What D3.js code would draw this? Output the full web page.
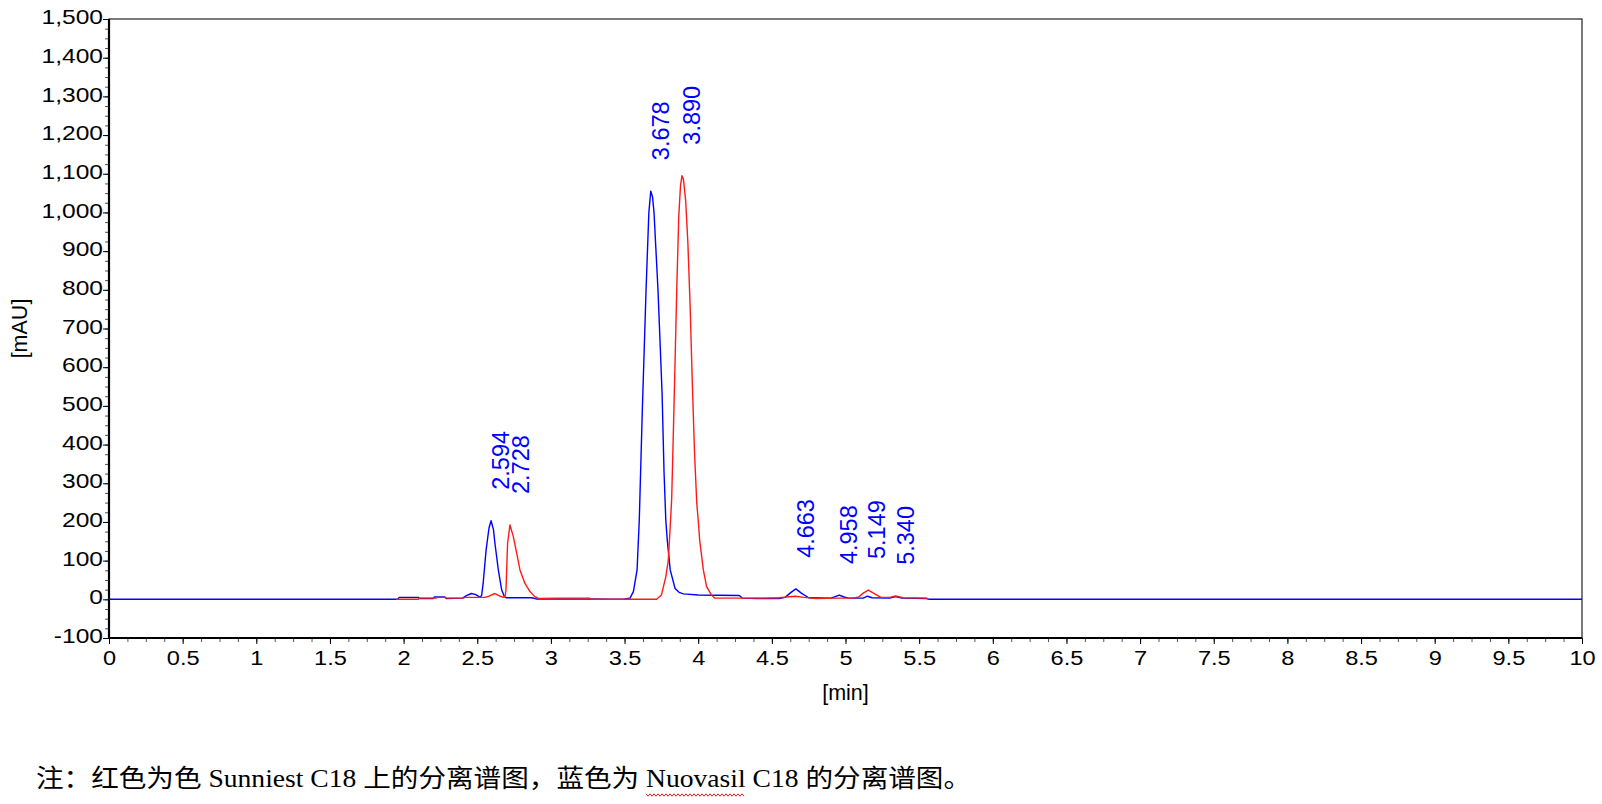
<!DOCTYPE html>
<html>
<head>
<meta charset="utf-8">
<script src="https://cdn.jsdelivr.net/npm/d3@7"></script>
<style>
  body { margin: 0; background: #fff; }
  svg { display: block; }
</style>
</head>
<body>
<svg id="chart" width="1602" height="804"></svg>
<script>
// Nuovasil C18 (blue) trace: [min, mAU]
const nuovasil = [
  [0, 0], [1.96, 0], [1.97, 5], [2.10, 5], [2.11, 2], [2.20, 2], [2.21, 6], [2.28, 6],
  [2.29, 2], [2.40, 3], [2.43, 10], [2.46, 15], [2.49, 12], [2.52, 5], [2.53, 11],
  [2.54, 41], [2.56, 127], [2.58, 185], [2.594, 203], [2.61, 180], [2.62, 145],
  [2.643, 76], [2.666, 24], [2.684, 7], [2.70, 4], [2.87, 4], [2.90, 1], [3.25, 1],
  [3.40, 0], [3.50, 1], [3.537, 3], [3.56, 20], [3.585, 76], [3.60, 205], [3.62, 480],
  [3.646, 800], [3.665, 1000], [3.678, 1055], [3.69, 1040], [3.70, 1000], [3.727, 800],
  [3.755, 530], [3.768, 330], [3.78, 205], [3.79, 153], [3.81, 76], [3.843, 28],
  [3.87, 18], [3.90, 14], [4.0, 11], [4.28, 10], [4.30, 3], [4.40, 2], [4.55, 2],
  [4.59, 5], [4.63, 18], [4.663, 27], [4.70, 16], [4.75, 4], [4.90, 3], [4.93, 7],
  [4.958, 11], [4.99, 6], [5.02, 3], [5.12, 3], [5.149, 8], [5.18, 4], [5.30, 3],
  [5.34, 7], [5.38, 3], [5.55, 2], [5.57, 0], [10, 0]
];

// Sunniest C18 (red) trace: [min, mAU]
const sunniest = [
  [1.95, 0], [2.10, 0], [2.11, 3], [2.22, 3], [2.23, 5], [2.28, 5], [2.29, 3], [2.40, 3],
  [2.42, 5], [2.55, 5], [2.58, 8], [2.62, 15], [2.655, 8], [2.68, 5], [2.69, 10],
  [2.695, 24], [2.706, 145], [2.722, 192], [2.745, 162], [2.768, 119], [2.79, 76],
  [2.824, 41], [2.858, 20], [2.89, 7], [2.92, 2], [3.04, 3], [3.26, 3], [3.28, 0],
  [3.718, 0], [3.75, 11], [3.78, 58], [3.797, 101], [3.81, 188], [3.82, 260],
  [3.83, 410], [3.842, 600], [3.855, 810], [3.868, 990], [3.88, 1070], [3.89, 1095],
  [3.90, 1085], [3.915, 1030], [3.93, 920], [3.945, 760], [3.96, 560], [3.975, 380],
  [3.99, 250], [4.0, 205], [4.01, 153], [4.035, 76], [4.057, 33], [4.09, 11],
  [4.113, 3], [4.30, 3], [4.45, 3], [4.55, 4], [4.60, 6], [4.66, 8], [4.72, 5],
  [4.80, 2], [4.95, 3], [5.05, 3], [5.09, 6], [5.12, 16], [5.155, 24], [5.19, 16],
  [5.24, 5], [5.30, 5], [5.34, 9], [5.39, 4], [5.55, 3], [5.56, 0]
];

const peakLabels = ["2.594", "2.728", "3.678", "3.890", "4.663", "4.958", "5.149", "5.340"];
const peakHeights = [203, 192, 1055, 1095, 27, 11, 24, 9];

const yTicks = [-100, 0, 100, 200, 300, 400, 500, 600, 700, 800, 900, 1000, 1100, 1200, 1300, 1400, 1500];
const xTicks = [0, 0.5, 1, 1.5, 2, 2.5, 3, 3.5, 4, 4.5, 5, 5.5, 6, 6.5, 7, 7.5, 8, 8.5, 9, 9.5, 10];

const caption = "注：红色为色 Sunniest C18 上的分离谱图，蓝色为 Nuovasil C18 的分离谱图。";

const margin = { top: 19, right: 20, bottom: 166, left: 109 };
const width = 1602;
const height = 804;

const x = d3.scaleLinear().domain([0, 10]).range([margin.left, width - margin.right]);
const y = d3.scaleLinear().domain([-100, 1500]).range([height - margin.bottom, margin.top]);

const svg = d3.select("#chart");
const tickFont = "'Liberation Sans', Arial, sans-serif";
const comma = d3.format(",");

// widen glyphs a little, the reference tick font runs wide
function stretch(sel, factor) {
  sel.each(function () {
    const w = this.getComputedTextLength();
    d3.select(this).attr("textLength", w * factor).attr("lengthAdjust", "spacingAndGlyphs");
  });
}

// minor ticks
svg.append("g")
  .attr("transform", `translate(${margin.left},0)`)
  .call(d3.axisLeft(y).tickValues(d3.range(-100, 1501, 25)).tickSize(4).tickFormat(""))
  .call((g) => g.select(".domain").remove())
  .call((g) => g.selectAll("line").attr("stroke", "#555"));

svg.append("g")
  .attr("transform", `translate(0,${y(-100)})`)
  .call(d3.axisBottom(x).tickValues(d3.range(0, 10.01, 0.125)).tickSize(4).tickFormat(""))
  .call((g) => g.select(".domain").remove())
  .call((g) => g.selectAll("line").attr("stroke", "#555"));

// major ticks + labels
const yAxis = svg.append("g")
  .attr("transform", `translate(${margin.left},0)`)
  .call(d3.axisLeft(y).tickValues(yTicks).tickSize(6).tickPadding(0)
    .tickFormat((d) => comma(d).replace("\u2212", "-")));
yAxis.select(".domain").remove();
yAxis.selectAll("line").attr("stroke", "#000");
yAxis.selectAll("text")
  .attr("dy", "0.22em")
  .attr("fill", "#000")
  .attr("font-family", tickFont)
  .attr("font-size", 21)
  .call(stretch, 1.17);

const xAxis = svg.append("g")
  .attr("transform", `translate(0,${y(-100)})`)
  .call(d3.axisBottom(x).tickValues(xTicks).tickSize(6).tickFormat((d) => String(d)));
xAxis.select(".domain").remove();
xAxis.selectAll("line").attr("stroke", "#000");
xAxis.selectAll("text")
  .attr("y", 12.5)
  .attr("fill", "#000")
  .attr("font-family", tickFont)
  .attr("font-size", 20.5)
  .call(stretch, 1.15);

// frame
svg.append("rect")
  .attr("x", x(0))
  .attr("y", y(1500))
  .attr("width", x(10) - x(0))
  .attr("height", y(-100) - y(1500))
  .attr("fill", "none")
  .attr("stroke", "#222")
  .attr("stroke-width", 1.2);

svg.append("line")
  .attr("x1", x(0)).attr("x2", x(0))
  .attr("y1", y(1500)).attr("y2", y(-100) + 1)
  .attr("stroke", "#000").attr("stroke-width", 2.2);

svg.append("line")
  .attr("x1", x(0) - 1).attr("x2", x(10))
  .attr("y1", y(-100)).attr("y2", y(-100))
  .attr("stroke", "#000").attr("stroke-width", 2.2);

// axis titles
svg.append("text")
  .attr("x", (x(0) + x(10)) / 2)
  .attr("y", 700)
  .attr("text-anchor", "middle")
  .attr("font-family", tickFont)
  .attr("font-size", 21.5)
  .attr("fill", "#000")
  .text("[min]");

svg.append("text")
  .attr("transform", `translate(27,${(y(-100) + y(1500)) / 2}) rotate(-90)`)
  .attr("text-anchor", "middle")
  .attr("font-family", tickFont)
  .attr("font-size", 21.5)
  .attr("fill", "#000")
  .text("[mAU]");

// traces
const line = d3.line()
  .x((d) => x(d[0]))
  .y((d) => y(d[1]));

svg.append("path")
  .datum(nuovasil)
  .attr("fill", "none")
  .attr("stroke", "#0000ff")
  .attr("stroke-width", 1.4)
  .attr("stroke-linejoin", "round")
  .attr("d", line);

svg.append("path")
  .datum(sunniest)
  .attr("fill", "none")
  .attr("stroke", "#ff1a1a")
  .attr("stroke-width", 1.4)
  .attr("stroke-linejoin", "round")
  .attr("d", line);

// peak retention-time labels
svg.append("g")
  .selectAll("text")
  .data(peakLabels)
  .join("text")
  .attr("transform", (d, i) => `translate(${x(+d) + 18},${y(peakHeights[i]) - 31}) rotate(-90)`)
  .attr("font-family", tickFont)
  .attr("font-size", 23.5)
  .attr("fill", "#0000ff")
  .text((d) => d);

// caption note
const note = svg.append("text")
  .attr("x", 36)
  .attr("y", 787)
  .attr("font-family", "'Liberation Serif', 'Times New Roman', 'Noto Sans CJK SC', serif")
  .attr("font-size", 25)
  .attr("fill", "#000")
  .attr("textLength", 935)
  .attr("lengthAdjust", "spacingAndGlyphs")
  .text(caption);

// red spell-check squiggle under "Nuovasil"
const start = caption.indexOf("Nuovasil");
const node = note.node();
const a = node.getExtentOfChar(start);
const b = node.getExtentOfChar(start + "Nuovasil".length - 1);
const x0 = a.x;
const x1 = b.x + b.width;
const wave = [];
for (let px = x0, k = 0; px <= x1; px += 2, k++) {
  wave.push([px, 795 + (k % 2 === 0 ? -1.2 : 1.2)]);
}
svg.append("path")
  .attr("d", d3.line()(wave))
  .attr("fill", "none")
  .attr("stroke", "#e02020")
  .attr("stroke-width", 1);
</script>
</body>
</html>
